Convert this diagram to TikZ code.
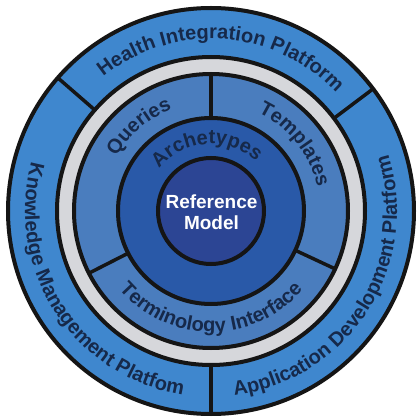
\documentclass[tikz,border=0pt]{standalone}
\usepackage{fontspec}
\setmainfont{Liberation Sans}
\usetikzlibrary{decorations.text}
\definecolor{outerblue}{HTML}{3F87CE}
\definecolor{ringgray}{HTML}{D6D7DB}
\definecolor{midblue}{HTML}{4A7DBE}
\definecolor{archblue}{HTML}{2959A8}
\definecolor{innerblue}{HTML}{2C4594}
\definecolor{textnavy}{HTML}{16294A}
\definecolor{linecol}{HTML}{151515}
\newcommand\ringfont{\bfseries\fontsize{20}{20}\selectfont}
\begin{document}
\begin{tikzpicture}[x=1pt,y=1pt,
  ringline/.style={draw=linecol, line width=4pt},
  divider/.style={draw=linecol, line width=3.5pt},
  ringtext/.style={decorate, decoration={text along path, text align=center,
      text color=textnavy, text={|\ringfont|#1}}}]
\useasboundingbox (-211,-209) rectangle (209,211);
\fill[white] (-211,-209) rectangle (209,211);
% fills
\fill[outerblue] (0,0) circle (203pt);
\fill[ringgray] (0,0) circle (154pt);
\fill[midblue] (0,0) circle (137pt);
\fill[archblue] (0,0) circle (93pt);
\fill[innerblue] (0,0) circle (53pt);
% ring borders
\draw[ringline] (0,0) circle (203pt);
\draw[ringline] (0,0) circle (154pt);
\draw[ringline] (0,0) circle (137pt);
\draw[ringline] (0,0) circle (93pt);
\draw[ringline] (0,0) circle (53pt);
% outer dividers
\coordinate (oa1) at (139:154pt); \coordinate (ob1) at (139:203pt);
\coordinate (oa2) at (37:154pt);  \coordinate (ob2) at (37:203pt);
\coordinate (oa3) at (270:154pt); \coordinate (ob3) at (270:203pt);
\draw[divider] (oa1) -- (ob1);
\draw[divider] (oa2) -- (ob2);
\draw[divider] (oa3) -- (ob3);
% middle dividers
\coordinate (ma1) at (90:93pt);  \coordinate (mb1) at (90:137pt);
\coordinate (ma2) at (207:93pt); \coordinate (mb2) at (207:137pt);
\coordinate (ma3) at (-25:93pt); \coordinate (mb3) at (-25:137pt);
\draw[divider] (ma1) -- (mb1);
\draw[divider] (ma2) -- (mb2);
\draw[divider] (ma3) -- (mb3);
% outer ring texts
\path[ringtext={Health Integration Platform}] (146:172pt) arc[start angle=146, end angle=26, radius=172pt];
\path[ringtext={Knowledge Management Platfom}] (143:186pt) arc[start angle=143, end angle=283, radius=186pt];
\path[ringtext={Application Development Platform}] (-102:186pt) arc[start angle=-102, end angle=37, radius=186pt];
% middle ring texts
\path[ringtext={Queries}] (175:109pt) arc[start angle=175, end angle=86, radius=109pt];
\path[ringtext={Templates}] (88:109pt) arc[start angle=88, end angle=-11, radius=109pt];
\path[ringtext={Terminology Interface}] (200:121pt) arc[start angle=200, end angle=340, radius=121pt];
% archetypes
\path[ringtext={Archetypes}] (160:67pt) arc[start angle=160, end angle=28, radius=67pt];
% centre
\node[text=white, font=\bfseries\fontsize{19}{21}\selectfont, align=center] (rm) at (0.5,-1) {Reference\\Model};
\end{tikzpicture}
\end{document}
